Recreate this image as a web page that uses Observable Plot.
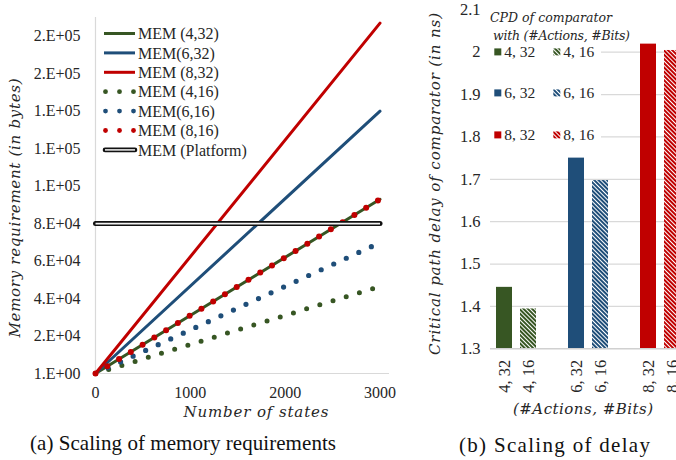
<!DOCTYPE html>
<html><head><meta charset="utf-8">
<script src="https://cdn.jsdelivr.net/npm/d3@7"></script>
<script src="https://cdn.jsdelivr.net/npm/@observablehq/plot@0.6"></script>
<style>
html,body{margin:0;padding:0;background:#fff;overflow:hidden}
#root{position:relative;width:676px;height:460px;overflow:hidden;background:#fff}
.abs{position:absolute;top:0}
</style></head><body><div id="root"></div>
<script>
// ---------- data: (a) memory requirements ----------
const states = [0, 3000];
const mem432 = [0, 93000];
const mem632 = [0, 140000];
const mem832 = [0, 187000];
const mem416 = [0, 46500];
const mem616 = [0, 69800];
const mem816 = [0, 93000];
const memPlatform = [80000, 80000];
const memSeriesNames = ["MEM (4,32)", "MEM(6,32)", "MEM (8,32)", "MEM (4,16)", "MEM(6,16)", "MEM (8,16)", "MEM (Platform)"];
const memXTicks = [0, 1000, 2000, 3000];
const memYTicks = [0, 20000, 40000, 60000, 80000, 100000, 120000, 140000, 160000, 180000];
const memYTickLabels = ["1.E+00", "2.E+04", "4.E+04", "6.E+04", "8.E+04", "1.E+05", "1.E+05", "1.E+05", "2.E+05", "2.E+05"];

// ---------- data: (b) delay ----------
const delayCats = ["4, 32", "4, 16", "6, 32", "6, 16", "8, 32", "8, 16"];
const delayValues = [1.445, 1.394, 1.750, 1.697, 2.019, 2.004];
const delayYTicks = [1.3, 1.4, 1.5, 1.6, 1.7, 1.8, 1.9, 2.0, 2.1];
const delayYTickLabels = ["1.3", "1.4", "1.5", "1.6", "1.7", "1.8", "1.9", "2", "2.1"];
const delayGridTicks = [1.4, 1.5, 1.6, 1.7, 1.8, 1.9, 2.0];
const delaySlots = ["4, 32", "4, 16", "gap1", "6, 32", "6, 16", "gap2", "8, 32", "8, 16"];

const GREEN = "#375623", BLUE = "#1f4e79", RED = "#c00000";
const serif = "'Liberation Serif', 'Times New Roman', serif";
const mathIt = "'DejaVu Serif', serif";

const root = document.getElementById("root");

// ---------- left chart ----------
const rowsOf = vals => states.map((s, i) => ({s, v: vals[i]}));
const memLabel = new Map(memYTicks.map((t, i) => [t, memYTickLabels[i]]));
const solid = [[mem432, GREEN], [mem632, BLUE], [mem832, RED]];
const dotted = [[mem416, GREEN, 5], [mem616, BLUE, 5.2], [mem816, RED, 6]];

const left = Plot.plot({
  width: 400, height: 420,
  marginLeft: 95, marginRight: 11, marginTop: 17, marginBottom: 47,
  style: {fontFamily: serif, fontSize: "16px", color: "#262626", background: "transparent", maxWidth: "none"},
  x: {domain: [0, 3100], ticks: memXTicks, tickSize: 0, tickPadding: 13, label: null, tickFormat: d => String(d)},
  y: {domain: [0, 190000], ticks: memYTicks, tickSize: 0, tickPadding: 15, label: null, tickFormat: d => memLabel.get(d)},
  marks: [
    Plot.ruleX([0], {stroke: "#d9d9d9", strokeWidth: 1.2}),
    Plot.ruleY([0], {stroke: "#d9d9d9", strokeWidth: 1.2}),
    ...solid.map(([vals, c]) => Plot.line(rowsOf(vals), {x: "s", y: "v", stroke: c, strokeWidth: 3})),
    ...dotted.map(([vals, c, w]) => Plot.line(rowsOf(vals), {x: "s", y: "v", stroke: c, strokeWidth: w, strokeDasharray: "0,13.8", strokeLinecap: "round"})),
    Plot.line(rowsOf(memPlatform), {x: "s", y: "v", stroke: "#111", strokeWidth: 5, strokeLinecap: "round"}),
    Plot.line(rowsOf(memPlatform), {x: "s", y: "v", stroke: "#f2f2f2", strokeWidth: 1.6, strokeLinecap: "butt"})
  ]
});
const lw = document.createElement("div");
lw.className = "abs"; lw.style.left = "0px"; lw.style.width = "400px";
lw.appendChild(left); root.appendChild(lw);

// ---------- right chart ----------
const barColors = [GREEN, GREEN, BLUE, BLUE, RED, RED];
const barHatched = [false, true, false, true, false, true];
const hatchId = c => "hatch" + c.slice(1);
const barRows = delayCats.map((c, i) => ({cat: c, value: delayValues[i], fill: barHatched[i] ? `url(#${hatchId(barColors[i])})` : barColors[i]}));
const delayLabel = new Map(delayYTicks.map((t, i) => [t, delayYTickLabels[i]]));

const right = Plot.plot({
  width: 285, height: 420,
  marginLeft: 90, marginRight: 0, marginTop: 9.3, marginBottom: 71.7,
  style: {fontFamily: serif, fontSize: "16.5px", color: "#262626", background: "transparent", maxWidth: "none"},
  x: {type: "band", domain: delaySlots, paddingInner: 0.342, paddingOuter: 0.177, tickSize: 0, tickPadding: 11, tickRotate: -90, label: null, tickFormat: d => d.startsWith("gap") ? "" : d},
  y: {domain: [1.3, 2.1], ticks: delayYTicks, tickSize: 0, tickPadding: 10, label: null, tickFormat: d => delayLabel.get(d)},
  color: {type: "identity"},
  marks: [
    Plot.ruleY(delayGridTicks, {stroke: "#d9d9d9", strokeWidth: 1.2}),
    Plot.barY(barRows, {x: "cat", y1: () => 1.3, y2: "value", fill: "fill"}),
    Plot.ruleY([1.3], {stroke: "#d0d0d0", strokeWidth: 1.5})
  ]
});
function addHatch(defs, suffix) {
  [GREEN, BLUE, RED].forEach(c => {
    const p = defs.append("pattern").attr("id", hatchId(c) + suffix).attr("patternUnits", "userSpaceOnUse")
      .attr("width", 3).attr("height", 3).attr("patternTransform", "rotate(-45)");
    p.append("rect").attr("width", 3).attr("height", 3).attr("fill", "#fff");
    p.append("rect").attr("width", 2).attr("height", 3).attr("fill", c);
  });
}
addHatch(d3.select(right).insert("defs", ":first-child"), "");
const rw = document.createElement("div");
rw.className = "abs"; rw.style.left = "400px"; rw.style.width = "285px";
rw.appendChild(right); root.appendChild(rw);

// ---------- overlay: titles, captions, legends ----------
const ov = d3.select(root).append("svg").attr("class", "abs").style("left", "0px")
  .attr("width", 676).attr("height", 460).style("pointer-events", "none");
addHatch(ov.append("defs"), "L");

function txt(s, x, y, opts = {}) {
  const t = ov.append("text").text(s).attr("x", x).attr("y", y)
    .attr("font-family", opts.family || serif).attr("font-size", opts.size || 16)
    .attr("font-style", opts.italic ? "italic" : null)
    .attr("text-anchor", opts.anchor || "start").attr("dy", "0.35em").attr("fill", opts.fill || "#262626");
  if (opts.len) t.attr("textLength", opts.len).attr("lengthAdjust", "spacing");
  if (opts.rotate) t.attr("transform", `rotate(${opts.rotate},${x},${y})`);
  return t;
}

// left legend
const legY0 = 33.5, legStep = 19.4;
const legSpec = [["solid", GREEN], ["solid", BLUE], ["solid", RED], ["dot", GREEN], ["dot", BLUE], ["dot", RED], ["double", "#111"]];
legSpec.forEach(([kind, c], i) => {
  const y = legY0 + i * legStep;
  if (kind === "solid") {
    ov.append("line").attr("x1", 104).attr("x2", 135).attr("y1", y).attr("y2", y).attr("stroke", c).attr("stroke-width", 3);
  } else if (kind === "dot") {
    [105.5, 119.5, 133.5].forEach(cx => ov.append("circle").attr("cx", cx).attr("cy", y).attr("r", 2.4).attr("fill", c));
  } else {
    ov.append("line").attr("x1", 105).attr("x2", 135).attr("y1", y).attr("y2", y).attr("stroke", c).attr("stroke-width", 4.6).attr("stroke-linecap", "round");
    ov.append("line").attr("x1", 105).attr("x2", 135).attr("y1", y).attr("y2", y).attr("stroke", "#f2f2f2").attr("stroke-width", 1.5);
  }
  txt(memSeriesNames[i], 138, y, {size: 16});
});

// left titles
txt("Memory requirement (in bytes)", 15, 208, {family: mathIt, italic: true, size: 15, anchor: "middle", rotate: -90, len: 259});
txt("Number of states", 256, 412, {family: mathIt, italic: true, size: 15, anchor: "middle", len: 145});
txt("(a) Scaling of memory requirements", 183, 443, {size: 21, anchor: "middle", len: 306, fill: "#111"});

// right legend
ov.append("rect").attr("x", 487).attr("y", 0).attr("width", 114).attr("height", 150).attr("fill", "#fff");
txt("CPD of comparator", 490, 17.5, {family: mathIt, italic: true, size: 12.5, len: 122});
txt("with (#Actions, #Bits)", 493, 35.5, {family: mathIt, italic: true, size: 12.5, len: 137});
const legRowsY = [52, 93, 135];
delayCats.forEach((c, i) => {
  const row = Math.floor(i / 2), col = i % 2;
  const y = legRowsY[row];
  const sx = col === 0 ? 494.3 : 553.3;
  ov.append("rect").attr("x", sx).attr("y", y - 3.6).attr("width", 7).attr("height", 7)
    .attr("fill", barHatched[i] ? `url(#${hatchId(barColors[i])}L)` : barColors[i]);
  txt(c, sx + 10, y, {size: 15.5});
});

// right titles
txt("Critical path delay of comparator (in ns)", 435, 184, {family: mathIt, italic: true, size: 15, anchor: "middle", rotate: -90, len: 342});
txt("(#Actions, #Bits)", 583, 409, {family: mathIt, italic: true, size: 15, anchor: "middle", len: 140});
txt("(b) Scaling of delay", 554.5, 445, {size: 21, anchor: "middle", len: 191, fill: "#111"});
</script></body></html>
